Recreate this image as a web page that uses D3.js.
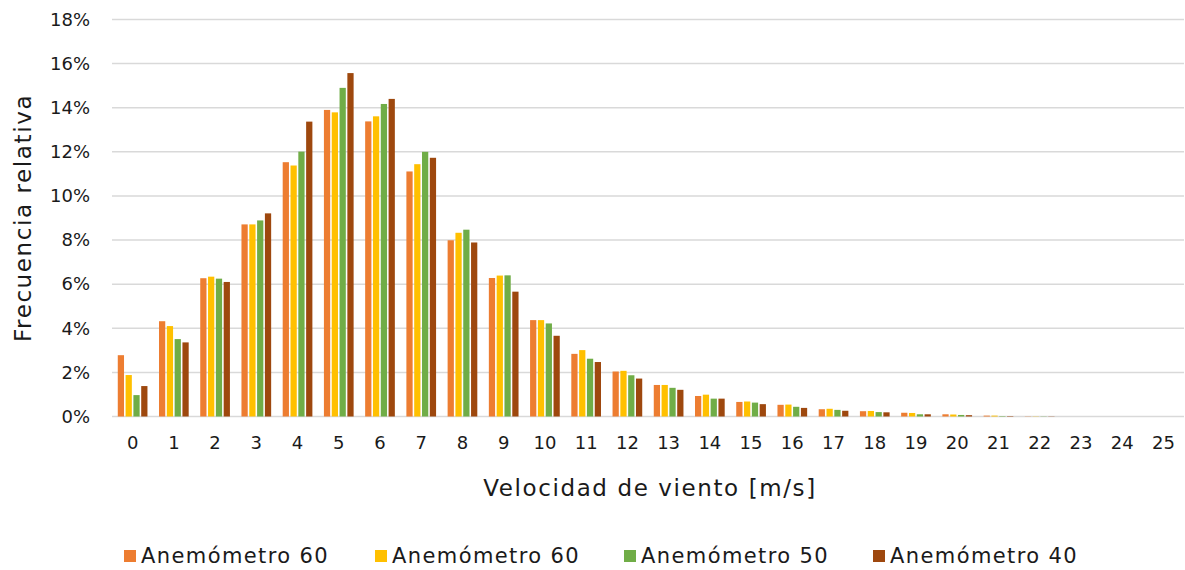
<!DOCTYPE html>
<html>
<head>
<meta charset="utf-8">
<script src="https://cdn.jsdelivr.net/npm/d3@7"></script>
<style>
  body { margin: 0; background: #fff; }
  text { font-family: "Century Gothic", "DejaVu Sans", sans-serif; fill: #1a1a1a; }
</style>
</head>
<body>
<script>
// data
var categories = d3.range(0, 26).map(String);
var seriesNames = ['Anemómetro 60', 'Anemómetro 60', 'Anemómetro 50', 'Anemómetro 40'];
var colors = ['#ED7D31', '#FFC000', '#70AD47', '#9E480E'];
var anem60a = [2.78, 4.32, 6.27, 8.71, 11.53, 13.90, 13.38, 11.11, 7.99, 6.28, 4.37, 2.84, 2.04, 1.43, 0.93, 0.66, 0.53, 0.33, 0.24, 0.17, 0.10, 0.04, 0.01, 0, 0, 0];
var anem60b = [1.88, 4.10, 6.34, 8.71, 11.38, 13.79, 13.61, 11.44, 8.33, 6.39, 4.37, 3.01, 2.07, 1.43, 0.99, 0.68, 0.54, 0.35, 0.25, 0.16, 0.09, 0.04, 0.01, 0, 0, 0];
var anem50 = [0.97, 3.51, 6.25, 8.89, 12.01, 14.90, 14.17, 12.00, 8.47, 6.40, 4.22, 2.62, 1.87, 1.30, 0.81, 0.63, 0.44, 0.30, 0.20, 0.10, 0.07, 0.02, 0.01, 0, 0, 0];
var anem40 = [1.38, 3.36, 6.10, 9.21, 13.37, 15.57, 14.40, 11.73, 7.89, 5.66, 3.66, 2.47, 1.72, 1.21, 0.81, 0.56, 0.39, 0.26, 0.19, 0.10, 0.06, 0.02, 0.01, 0, 0, 0];
var yTicks = [0, 2, 4, 6, 8, 10, 12, 14, 16, 18];

var series = [anem60a, anem60b, anem50, anem40];

var width = 1185, height = 570;
var plotLeft = 112, plotRight = 1184, plotTop = 19.5, plotBottom = 416.5;

var svg = d3.select('body').append('svg')
    .attr('width', width)
    .attr('height', height);

var x0 = d3.scaleBand()
    .domain(categories)
    .range([plotLeft, plotRight])
    .paddingInner(0.28)
    .paddingOuter(0.14);

var x1 = d3.scaleBand()
    .domain(d3.range(series.length))
    .range([0, x0.bandwidth()])
    .paddingInner(0.2);

var y = d3.scaleLinear()
    .domain([0, 18])
    .range([plotBottom, plotTop]);

// gridlines
svg.append('g').selectAll('line')
    .data(yTicks)
    .enter().append('line')
    .attr('x1', plotLeft).attr('x2', plotRight)
    .attr('y1', function(d) { return y(d); })
    .attr('y2', function(d) { return y(d); })
    .attr('stroke', '#d9d9d9')
    .attr('stroke-width', 1.5);

// y axis labels
var yAxis = d3.axisLeft(y).tickValues(yTicks).tickSize(0).tickPadding(0)
    .tickFormat(function(d) { return d + '%'; });
svg.append('g')
    .attr('transform', 'translate(90,0)')
    .call(yAxis)
    .call(function(g) { g.select('.domain').remove(); })
    .selectAll('text')
    .style('font-size', '18px')
    .style('font-family', null)
    .attr('fill', '#1a1a1a');

// x axis labels
var xAxis = d3.axisBottom(x0).tickSize(0).tickPadding(0);
svg.append('g')
    .attr('transform', 'translate(0,' + (plotBottom + 20) + ')')
    .call(xAxis)
    .call(function(g) { g.select('.domain').remove(); })
    .selectAll('text')
    .style('font-size', '18px')
    .style('font-family', null)
    .attr('fill', '#1a1a1a');

// bars
var groups = svg.append('g').selectAll('g')
    .data(categories)
    .enter().append('g')
    .attr('transform', function(d) { return 'translate(' + x0(d) + ',0)'; });

groups.selectAll('rect')
    .data(function(d, i) { return series.map(function(s, j) { return {j: j, v: s[i]}; }); })
    .enter().append('rect')
    .attr('x', function(d) { return x1(d.j); })
    .attr('width', x1.bandwidth())
    .attr('y', function(d) { return y(d.v); })
    .attr('height', function(d) { return plotBottom - y(d.v); })
    .attr('fill', function(d) { return colors[d.j]; });

// axis titles
svg.append('text')
    .attr('x', 650)
    .attr('y', 496)
    .attr('text-anchor', 'middle')
    .style('font-size', '23px')
    .style('letter-spacing', '1.6px')
    .text('Velocidad de viento [m/s]');

svg.append('text')
    .attr('transform', 'translate(31,218) rotate(-90)')
    .attr('text-anchor', 'middle')
    .style('font-size', '23px')
    .style('letter-spacing', '1.6px')
    .text('Frecuencia relativa');

// legend
var legendX = [124, 375, 624, 873];
var legend = svg.append('g').selectAll('g')
    .data(seriesNames)
    .enter().append('g')
    .attr('transform', function(d, i) { return 'translate(' + legendX[i] + ',556)'; });

legend.append('rect')
    .attr('x', 0).attr('y', -6)
    .attr('width', 12).attr('height', 12)
    .attr('fill', function(d, i) { return colors[i]; });

legend.append('text')
    .attr('x', 17)
    .attr('y', 7)
    .style('font-size', '21px')
    .style('letter-spacing', '1.4px')
    .text(function(d) { return d; });
</script>
</body>
</html>
